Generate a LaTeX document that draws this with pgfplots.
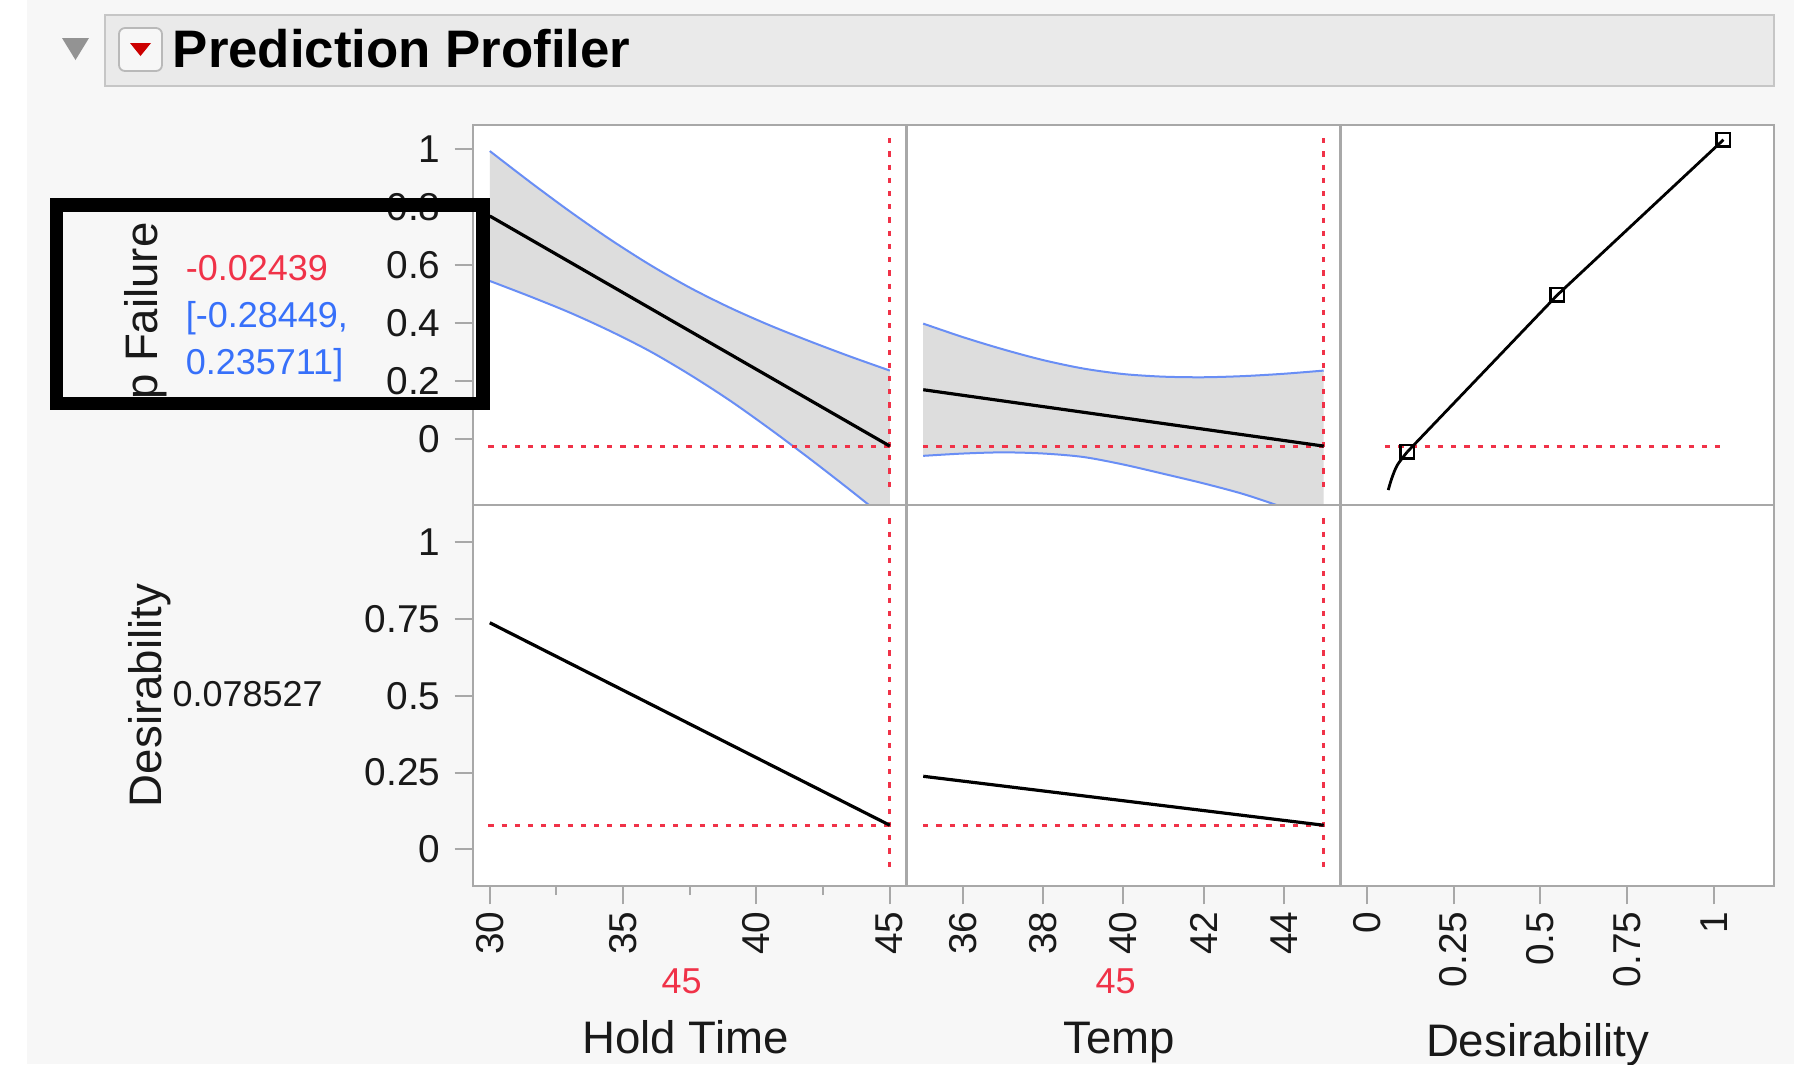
\documentclass[border=0pt]{standalone}
\usepackage{fontspec}
\setmainfont{Liberation Sans}
\usepackage{pgfplots}
\pgfplotsset{compat=1.18}

\definecolor{bg}{RGB}{247,247,247}
\definecolor{hdr}{RGB}{234,234,234}
\definecolor{hdrline}{RGB}{198,198,198}
\definecolor{frame}{RGB}{168,168,168}
\definecolor{band}{RGB}{221,221,221}
\definecolor{ciblue}{RGB}{105,142,245}
\definecolor{jred}{RGB}{240,50,72}
\definecolor{jblue}{RGB}{55,112,250}
\definecolor{txt}{RGB}{25,25,25}

\newcommand{\tk}{\fontsize{9.7}{11}\selectfont}
\newcommand{\lb}{\fontsize{11.4}{13}\selectfont}
\newcommand{\vl}{\fontsize{9}{10}\selectfont}

\pgfplotsset{
  prof/.style={
    scale only axis, width=108.4pt,
    anchor=south west,
    axis line style={draw=frame, line width=0.6pt},
    axis background/.style={fill=white},
    tick style={draw=frame, line width=0.5pt},
    tick align=outside, tick pos=left,
    major tick length=4.6pt, minor tick length=2.3pt,
    ticklabel style={font=\tk, text=txt},
    xtick=\empty, ytick=\empty,
    /pgf/number format/assume math mode=true,
  },
  row1/.style={height=95pt, ymin=-0.2276, ymax=1.0828},
  row2/.style={height=95.25pt, ymin=-0.1195, ymax=1.1215},
  xrot/.style={xticklabel style={rotate=90, anchor=east, inner sep=1.6pt}},
  mean/.style={black, line width=0.8pt},
  ci/.style={ciblue, line width=0.5pt, smooth},
  cur/.style={jred, line width=0.7pt, dash pattern=on 1.3pt off 2pt},
}

\begin{document}
\begin{tikzpicture}

% page background and header
\begin{scope}[x=0.25pt, y=-0.25pt]
  \fill[bg] (0,0) rectangle (1794,1064);
  \fill[white] (0,0) rectangle (27,1064);
  \draw[hdrline, fill=hdr, line width=0.5pt] (105,15) rectangle (1774,86);
  \fill[gray!85] (62,38) -- (89,38) -- (75.5,60) -- cycle;
  \draw[rounded corners=1.5pt, draw=gray!55, fill=gray!6, line width=0.45pt] (119,28) rectangle (162,71);
  \fill[red!80!black] (130,43) -- (151,43) -- (140.5,56) -- cycle;
  \node[anchor=base west, inner sep=0, font=\fontsize{13.2}{15}\selectfont\bfseries] at (172,67) {Prediction Profiler};
\end{scope}

% row 1: response with confidence band
\begin{axis}[prof, row1, at={(118.25pt,-126.25pt)},
  xmin=29.37, xmax=45.63,
  ytick={0,0.2,0.4,0.6,0.8,1}, yticklabels={0,0.2,0.4,0.6,0.8,1}]
  \addplot[fill=band, draw=none] coordinates {
    (30,0.993) (31.5,0.887) (33,0.785) (34.5,0.689) (36,0.601) (37.5,0.522)
    (39,0.453) (40.5,0.392) (42,0.337) (43.5,0.285) (45,0.236)
    (45,-0.285) (43.5,-0.175) (42,-0.068) (40.5,0.035) (39,0.133) (37.5,0.222)
    (36,0.303) (34.5,0.373) (33,0.436) (31.5,0.492) (30,0.545)} -- cycle;
  \addplot[ci] coordinates {
    (30,0.993) (31.5,0.887) (33,0.785) (34.5,0.689) (36,0.601) (37.5,0.522)
    (39,0.453) (40.5,0.392) (42,0.337) (43.5,0.285) (45,0.236)};
  \addplot[ci] coordinates {
    (30,0.545) (31.5,0.492) (33,0.436) (34.5,0.373) (36,0.303) (37.5,0.222)
    (39,0.133) (40.5,0.035) (42,-0.068) (43.5,-0.175) (45,-0.285)};
  \addplot[cur] coordinates {(29.95,-0.0244) (45,-0.0244)};
  \addplot[cur] coordinates {(45,1.037) (45,-0.187)};
  \addplot[mean] coordinates {(30,0.769) (45,-0.0244)};
\end{axis}

\begin{axis}[prof, row1, at={(226.625pt,-126.25pt)},
  xmin=34.583, xmax=45.41]
  \addplot[fill=band, draw=none] coordinates {
    (35,0.398) (36,0.351) (37,0.309) (38,0.272) (39,0.243) (40,0.224)
    (41,0.215) (42,0.213) (43,0.217) (44,0.225) (45,0.236)
    (45,-0.284) (44,-0.236) (43,-0.190) (42,-0.153) (41,-0.120) (40,-0.088)
    (39,-0.062) (38,-0.050) (37,-0.046) (36,-0.050) (35,-0.058)} -- cycle;
  \addplot[ci] coordinates {
    (35,0.398) (36,0.351) (37,0.309) (38,0.272) (39,0.243) (40,0.224)
    (41,0.215) (42,0.213) (43,0.217) (44,0.225) (45,0.236)};
  \addplot[ci] coordinates {
    (35,-0.058) (36,-0.050) (37,-0.046) (38,-0.050) (39,-0.062) (40,-0.088)
    (41,-0.120) (42,-0.153) (43,-0.190) (44,-0.236) (45,-0.284)};
  \addplot[cur] coordinates {(35,-0.0244) (45,-0.0244)};
  \addplot[cur] coordinates {(45,1.037) (45,-0.187)};
  \addplot[mean] coordinates {(35,0.170) (45,-0.0244)};
\end{axis}

\begin{axis}[prof, row1, at={(335.125pt,-126.25pt)},
  xmin=-0.0754, xmax=1.1728]
  \addplot[cur] coordinates {(0.053,-0.0244) (1.03,-0.0244)};
  \addplot[black, line width=0.7pt, smooth] coordinates {
    (0.062,-0.176) (0.072,-0.136) (0.088,-0.090) (0.117,-0.044)};
  \addplot[black, line width=0.7pt, mark=square, mark size=1.7pt,
    mark options={line width=0.6pt, solid}] coordinates {
    (0.117,-0.044) (0.549,0.497) (1.027,1.032)};
\end{axis}

% row 2: desirability
\begin{axis}[prof, row2, xrot, at={(118.25pt,-221.5pt)},
  xmin=29.37, xmax=45.63,
  xtick={30,35,40,45}, xticklabels={30,35,40,45},
  minor xtick={32.5,37.5,42.5},
  ytick={0,0.25,0.5,0.75,1}, yticklabels={0,0.25,0.5,0.75,1}]
  \addplot[cur] coordinates {(29.95,0.0785) (45,0.0785)};
  \addplot[cur] coordinates {(45,1.078) (45,-0.078)};
  \addplot[mean] coordinates {(30,0.738) (45,0.0785)};
\end{axis}

\begin{axis}[prof, row2, xrot, at={(226.625pt,-221.5pt)},
  xmin=34.583, xmax=45.41,
  xtick={36,38,40,42,44}, xticklabels={36,38,40,42,44}]
  \addplot[cur] coordinates {(35,0.0785) (45,0.0785)};
  \addplot[cur] coordinates {(45,1.078) (45,-0.078)};
  \addplot[mean] coordinates {(35,0.238) (45,0.0785)};
\end{axis}

\begin{axis}[prof, row2, xrot, at={(335.125pt,-221.5pt)},
  xmin=-0.0754, xmax=1.1728,
  xtick={0,0.25,0.5,0.75,1}, xticklabels={0,0.25,0.5,0.75,1}]
\end{axis}

% labels, current values, annotation box
\begin{scope}[x=0.25pt, y=-0.25pt]
  \begin{scope}
    \clip (63,212) rectangle (477,397);
    \node[rotate=90, anchor=base east, inner sep=0, font=\lb, text=txt] at (157,221.7) {p Failure};
  \end{scope}
  \node[rotate=90, anchor=base, inner sep=0, font=\lb, text=txt] at (161.7,695.5) {Desirability};
  \node[anchor=base west, inner sep=0, font=\vl, text=jred] at (185,280) {-0.02439};
  \node[anchor=base west, inner sep=0, font=\vl, text=jblue] at (185,327) {[-0.28449,};
  \node[anchor=base west, inner sep=0, font=\vl, text=jblue] at (185,374) {0.235711]};
  \node[anchor=base west, inner sep=0, font=\vl, text=txt] at (171.7,706.7) {0.078527};
  \node[inner sep=0, font=\vl, text=jred] at (681.7,981.7) {45};
  \node[inner sep=0, font=\vl, text=jred] at (1115.5,981.7) {45};
  \node[anchor=base, inner sep=0, font=\lb, text=txt] at (685.5,1053.3) {Hold Time};
  \node[anchor=base, inner sep=0, font=\lb, text=txt] at (1119,1053.3) {Temp};
  \node[anchor=base, inner sep=0, font=\lb, text=txt] at (1537.5,1056) {Desirability};
  \draw[black, line width=3.3pt] (56.7,205) rectangle (483,403.3);
\end{scope}

\pgfresetboundingbox
\path[use as bounding box] (0pt,0pt) rectangle (448.5pt,-266pt);
\end{tikzpicture}
\end{document}
